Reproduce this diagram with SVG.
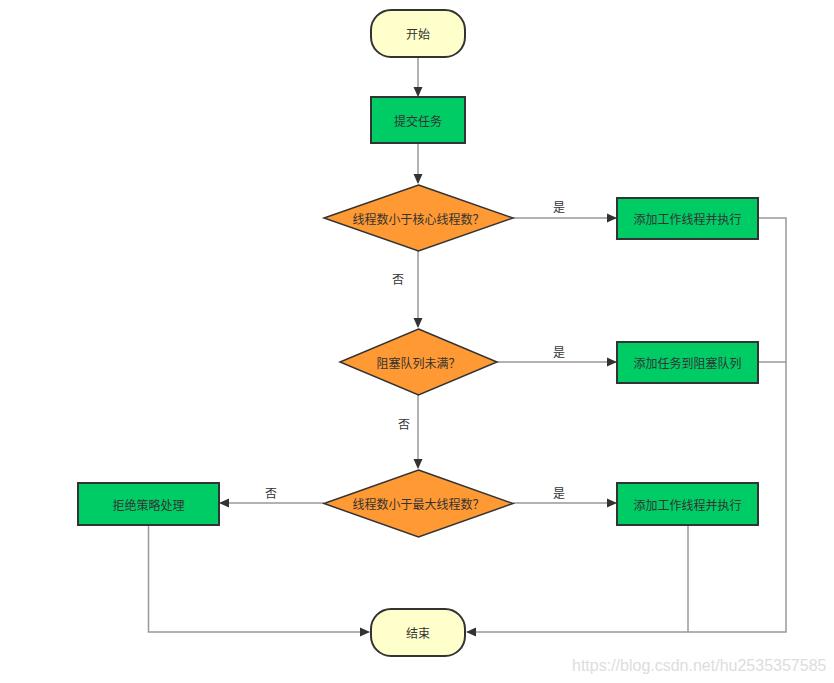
<svg xmlns="http://www.w3.org/2000/svg" width="834" height="683" viewBox="0 0 834 683">
<style>
text{font-family:"Noto Sans CJK SC","Liberation Sans",sans-serif;font-size:12px;fill:#333;text-anchor:middle;dominant-baseline:central}
.term{fill:#FFFFCC;stroke:#333;stroke-width:2}
.proc{fill:#00CC66;stroke:#333;stroke-width:2}
.dec{fill:#FF9933;stroke:#333;stroke-width:1.5}
.ln{fill:none;stroke:#999;stroke-width:1.5}
.lbl{font-size:12px;fill:#333}
.wm{font-family:"Liberation Sans",sans-serif;font-size:16px;fill:#ddd;text-anchor:start}
</style>
<defs>
<marker id="ah" markerWidth="10" markerHeight="10" refX="9" refY="5" orient="auto" markerUnits="userSpaceOnUse">
<path d="M0,0.5 L10,5 L0,9.5 Z" fill="#333"/>
</marker>
</defs>
<g id="connectors">
<line class="ln" x1="418" y1="57" x2="418" y2="96" marker-end="url(#ah)"/>
<line class="ln" x1="418" y1="143" x2="418" y2="183" marker-end="url(#ah)"/>
<line class="ln" x1="513" y1="218" x2="616" y2="218" marker-end="url(#ah)"/>
<line class="ln" x1="418" y1="251" x2="418" y2="327" marker-end="url(#ah)"/>
<line class="ln" x1="497" y1="362" x2="616" y2="362" marker-end="url(#ah)"/>
<line class="ln" x1="418" y1="395" x2="418" y2="468" marker-end="url(#ah)"/>
<line class="ln" x1="513" y1="503" x2="616" y2="503" marker-end="url(#ah)"/>
<line class="ln" x1="324" y1="503" x2="220" y2="503" marker-end="url(#ah)"/>
<polyline class="ln" points="148.5,525 148.5,632 369,632" marker-end="url(#ah)"/>
<polyline class="ln" points="758,218 786,218 786,632 467,632" marker-end="url(#ah)"/>
<line class="ln" x1="758" y1="362" x2="786" y2="362"/>
<line class="ln" x1="688" y1="525" x2="688" y2="632"/>
<text class="lbl" x="559" y="206">是</text>
<text class="lbl" x="559" y="351">是</text>
<text class="lbl" x="559" y="492">是</text>
<text class="lbl" x="398" y="278">否</text>
<text class="lbl" x="404" y="423">否</text>
<text class="lbl" x="271" y="492">否</text>
</g>
<g id="start"><rect class="term" x="371" y="10" width="94" height="47" rx="20"/><text x="418" y="33.5">开始</text></g>
<g id="submit"><rect class="proc" x="371" y="97" width="94" height="46"/><text x="418" y="120">提交任务</text></g>
<g id="dec1"><polygon class="dec" points="418.5,185 513,218 418.5,251 324,218"/><text x="418.5" y="218">线程数小于核心线程数？</text></g>
<g id="addworker1"><rect class="proc" x="617" y="198" width="141" height="41"/><text x="687.5" y="218.5">添加工作线程并执行</text></g>
<g id="dec2"><polygon class="dec" points="418.5,329 497,362 418.5,395 340,362"/><text x="418.5" y="362">阻塞队列未满？</text></g>
<g id="addqueue"><rect class="proc" x="617" y="342" width="141" height="41"/><text x="687.5" y="362.5">添加任务到阻塞队列</text></g>
<g id="dec3"><polygon class="dec" points="418.5,470 513,503.5 418.5,537 324,503.5"/><text x="418.5" y="503.5">线程数小于最大线程数？</text></g>
<g id="addworker2"><rect class="proc" x="617" y="483" width="141" height="42"/><text x="687.5" y="504">添加工作线程并执行</text></g>
<g id="reject"><rect class="proc" x="78" y="483" width="141" height="42"/><text x="148.5" y="504">拒绝策略处理</text></g>
<g id="end"><rect class="term" x="371" y="609" width="94" height="47" rx="20"/><text x="418" y="632.5">结束</text></g>
<text class="wm" x="572" y="665">https://blog.csdn.net/hu2535357585</text>
</svg>
